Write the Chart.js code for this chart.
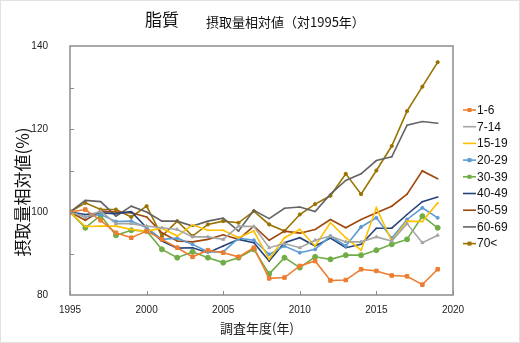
<!DOCTYPE html>
<html>
<head>
<meta charset="utf-8">
<script src="https://cdn.jsdelivr.net/npm/chart.js@4"></script>
<style>
  html, body { margin: 0; padding: 0; background: #fff; }
  #wrap { width: 518px; height: 341px; border: 1px solid #e2e2e2; position: relative; }
  canvas { display: block; }
</style>
</head>
<body>
<div id="wrap"><canvas id="chart" width="518" height="341"></canvas></div>
<script>
// survey years
var years = [1995, 1996, 1997, 1998, 1999, 2000, 2001, 2002, 2003, 2004, 2005, 2006, 2007,
             2008, 2009, 2010, 2011, 2012, 2013, 2014, 2015, 2016, 2017, 2018, 2019];

// relative fat intake (1995 = 100) by age group
var age1to6   = [100, 100.6, 98.0, 95.0, 93.8, 95.4, 93.4, 91.4, 89.2, 90.8, 90.2, 89.2, 91.4,
                 84.0, 84.2, 87.0, 88.2, 83.5, 83.6, 86.2, 85.8, 84.7, 84.5, 82.5, 86.2];
var age7to14  = [100, 98.8, 100.2, 97.2, 97.2, 96.6, 96.2, 95.8, 94.0, 94.0, 93.4, 96.6, 96.5,
                 91.4, 92.4, 91.4, 93.2, 94.2, 92.8, 92.8, 94.0, 93.0, 97.2, 92.6, 94.4];
var age15to19 = [100, 96.5, 96.6, 96.6, 95.8, 95.4, 96.1, 94.2, 96.9, 95.6, 95.6, 93.8, 95.4,
                 88.6, 93.8, 95.8, 91.8, 97.4, 93.8, 90.8, 101.0, 93.0, 97.8, 97.7, 102.2];
var age20to29 = [100, 98.8, 99.4, 97.7, 97.8, 96.2, 93.4, 93.7, 92.2, 90.4, 90.4, 93.7, 93.2,
                 89.8, 91.8, 90.2, 91.0, 94.2, 91.8, 96.4, 98.6, 93.7, 98.2, 101.0, 98.6];
var age30to39 = [100, 96.2, 99.2, 94.4, 95.6, 95.4, 91.0, 89.0, 90.4, 89.0, 87.8, 89.0, 91.0,
                 85.1, 89.0, 86.6, 89.2, 88.6, 89.6, 89.6, 90.8, 92.2, 93.4, 99.0, 96.2];
var age40to49 = [100, 99.4, 99.8, 99.6, 100.1, 96.2, 93.0, 91.3, 91.4, 90.2, 91.8, 93.4, 92.6,
                 88.2, 92.6, 93.8, 91.8, 93.7, 91.4, 92.2, 96.1, 96.1, 99.4, 102.5, 103.6];
var age50to59 = [100, 98.0, 100.2, 100.0, 99.8, 98.8, 95.0, 93.0, 92.8, 93.4, 94.5, 93.4, 96.6,
                 93.2, 95.4, 94.9, 95.8, 98.2, 96.2, 98.2, 99.8, 101.4, 104.3, 109.9, 108.0];
var age60to69 = [100, 102.8, 102.5, 99.0, 101.4, 100.0, 97.8, 97.8, 96.6, 97.8, 98.5, 95.4, 100.4,
                 98.4, 100.9, 101.2, 100.1, 104.3, 107.6, 109.2, 112.4, 113.3, 120.9, 121.8, 121.4];
var age70plus = [100, 102.2, 100.6, 100.6, 98.8, 101.4, 94.2, 97.8, 94.2, 97.0, 97.8, 97.4, 100.2,
                 97.0, 95.4, 99.4, 101.9, 103.9, 109.2, 104.3, 110.0, 115.9, 124.3, 130.2, 136.1];

var groupNames = ['1-6', '7-14', '15-19', '20-29', '30-39', '40-49', '50-59', '60-69', '70<'];
var groupValues = [age1to6, age7to14, age15to19, age20to29, age30to39, age40to49, age50to59, age60to69, age70plus];
var groupColors = ['#ED7D31', '#A5A5A5', '#FFC000', '#5B9BD5', '#70AD47', '#264478', '#9E480E', '#636363', '#997300'];
var groupMarkers = ['rect', 'triangle', 'crossRot', 'circle', 'circle', 'line', 'line', 'line', 'circle'];
var groupRadius = [2.5, 1.8, 1.5, 1.5, 2.5, 1, 1, 1, 1.6];

var xTicks = [1995, 2000, 2005, 2010, 2015, 2020];
var yTicks = [80, 100, 120, 140];

var cjk = '"Noto Sans CJK JP", sans-serif';
var latin = '"Liberation Sans", Arial, sans-serif';

var datasets = groupNames.map(function (name, i) {
    return {
        label: name,
        data: years.map(function (y, j) { return { x: y, y: groupValues[i][j] }; }),
        borderColor: groupColors[i],
        backgroundColor: groupColors[i],
        borderWidth: 1.6,
        pointStyle: groupMarkers[i],
        pointRadius: groupRadius[i],
        pointBorderWidth: 1,
        tension: 0
    };
});

// frame, inner tick marks, titles and legend
var decorations = {
    id: 'decorations',
    afterDraw: function (chart) {
        var ctx = chart.ctx;
        var a = chart.chartArea;
        var xs = chart.scales.x, ys = chart.scales.y;
        ctx.save();
        ctx.strokeStyle = '#8c8c8c';
        ctx.lineWidth = 1.5;
        ctx.strokeRect(a.left, a.top, a.right - a.left, a.bottom - a.top);

        ctx.lineWidth = 1;
        ctx.beginPath();
        xTicks.forEach(function (t) {
            var px = Math.round(xs.getPixelForValue(t)) + 0.5;
            ctx.moveTo(px, a.bottom);
            ctx.lineTo(px, a.bottom - 4);
        });
        for (var v = 90; v < 140; v += 10) {
            var py = Math.round(ys.getPixelForValue(v)) + 0.5;
            ctx.moveTo(a.left, py);
            ctx.lineTo(a.left + 4, py);
        }
        ctx.stroke();

        ctx.fillStyle = '#111';
        ctx.textBaseline = 'middle';
        ctx.textAlign = 'left';
        ctx.font = '17px ' + cjk;
        ctx.fillText('脂質', 144, 19);
        ctx.font = '13px ' + cjk;
        ctx.fillText('摂取量相対値（対1995年）', 205, 21);

        ctx.textAlign = 'center';
        ctx.font = '13px ' + cjk;
        ctx.fillStyle = '#222';
        ctx.fillText('調査年度(年)', 256, 327);

        ctx.save();
        ctx.translate(22, 191);
        ctx.rotate(-Math.PI / 2);
        ctx.font = '17px ' + cjk;
        ctx.fillStyle = '#111';
        ctx.fillText('摂取量相対値(%)', 0, 0);
        ctx.restore();

        ctx.textAlign = 'left';
        ctx.font = '12px ' + latin;
        groupNames.forEach(function (name, i) {
            var ly = 109 + i * 16.7;
            ctx.strokeStyle = groupColors[i];
            ctx.lineWidth = 1.6;
            ctx.beginPath();
            ctx.moveTo(462, ly);
            ctx.lineTo(475, ly);
            ctx.stroke();
            ctx.fillStyle = groupColors[i];
            if (groupMarkers[i] === 'rect' || groupMarkers[i] === 'circle') {
                ctx.fillRect(466.5, ly - 2, 4, 4);
            }
            ctx.fillStyle = '#111';
            ctx.fillText(name, 476, ly + 0.5);
        });
        ctx.restore();
    }
};

new Chart(document.getElementById('chart'), {
    type: 'line',
    data: { datasets: datasets },
    options: {
        responsive: false,
        animation: false,
        layout: { padding: { top: 45, right: 66, left: 0, bottom: 0 } },
        plugins: {
            legend: { display: false },
            title: { display: false },
            tooltip: { enabled: false }
        },
        scales: {
            x: {
                type: 'linear',
                min: 1995,
                max: 2020,
                afterFit: function (s) { s.height = 47; },
                afterBuildTicks: function (s) { s.ticks = xTicks.map(function (v) { return { value: v }; }); },
                grid: { display: false },
                border: { display: false },
                ticks: {
                    padding: 1,
                    color: '#222',
                    font: { family: latin, size: 10 },
                    callback: function (v) { return String(v); }
                }
            },
            y: {
                min: 80,
                max: 140,
                afterFit: function (s) { s.width = 69; },
                afterBuildTicks: function (s) { s.ticks = yTicks.map(function (v) { return { value: v }; }); },
                grid: { display: false },
                border: { display: false },
                ticks: {
                    padding: 14,
                    color: '#222',
                    font: { family: latin, size: 10 }
                }
            }
        }
    },
    plugins: [decorations]
});
</script>
</body>
</html>
